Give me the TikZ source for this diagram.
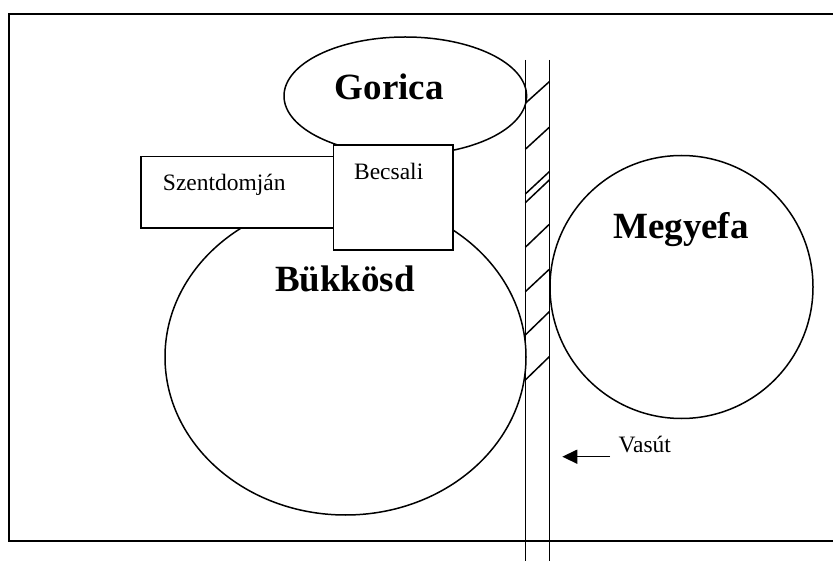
\documentclass[tikz,border=0pt]{standalone}
\usepackage{fontspec}
\setmainfont{Liberation Serif}
\usetikzlibrary{shapes.geometric,arrows.meta}
\tikzset{
  region/.style={draw=black, line width=1.5pt, fill=white, inner sep=0pt, outer sep=0pt},
  boxshape/.style={draw=black, line width=1.5pt, fill=white, inner sep=0pt, outer sep=0pt, anchor=north west},
  bigname/.style={font=\fontsize{37}{40}\selectfont\bfseries, anchor=base, inner sep=0pt},
  smallname/.style={font=\fontsize{23.5}{26}\selectfont, anchor=base, inner sep=0pt},
  rail/.style={line width=1.5pt},
  hatchline/.style={line width=1.5pt},
}
\begin{document}
\begin{tikzpicture}[x=1pt,y=-1pt]
\useasboundingbox (0,0) rectangle (833,561);
% outer frame (right side beyond the picture)
\draw[line width=2pt] (860,14) -- (9.3,14) -- (9.3,541) -- (860,541);
% regions
\node[region, ellipse, minimum width=361pt, minimum height=316pt] (bukkosd) at (345.5,357) {};
\node[region, ellipse, minimum width=242.6pt, minimum height=118pt] (gorica) at (405.3,96) {};
\node[region, ellipse, minimum width=263pt, minimum height=263pt] (megyefa) at (681.5,287) {};
\node[boxshape, minimum width=192.3pt, minimum height=71.3pt] (szent) at (141,156.7) {};
\node[boxshape, minimum width=119.7pt, minimum height=105pt] (becsali) at (333.3,145) {};
% railway
\coordinate (ltop) at (525.3,60);
\coordinate (lbot) at (525.3,562);
\coordinate (rtop) at (549.3,60);
\coordinate (rbot) at (549.3,562);
\draw[rail] (ltop) -- (lbot);
\draw[rail] (rtop) -- (rbot);
\foreach \a/\b in {103.3/81.7, 149.3/127.3, 194/171.7, 202.7/180, 247.3/224.3, 291.7/269.3, 335/311.7, 380/356.7}{
  \draw[hatchline] (525.3,\a) -- (549.3,\b);
}
% labels
\node[bigname] (tgorica) at (389.2,100) {Gorica};
\node[bigname] (tbukkosd) at (345,291.7) {Bükkösd};
\node[bigname] (tmegyefa) at (681,239) {Megyefa};
\node[smallname] (tbecsali) at (388.7,179.3) {Becsali};
\node[smallname] (tszent) at (224.3,190.7) {Szentdomján};
\node[smallname, anchor=base west] (tvasut) at (618.5,452.7) {Vasút};
% arrow
\coordinate (arrstart) at (610,456.7);
\coordinate (arrend) at (562.3,456.7);
\draw[line width=1.5pt, -{Triangle[length=15pt,width=14pt]}] (arrstart) -- (arrend);
\end{tikzpicture}
\end{document}
